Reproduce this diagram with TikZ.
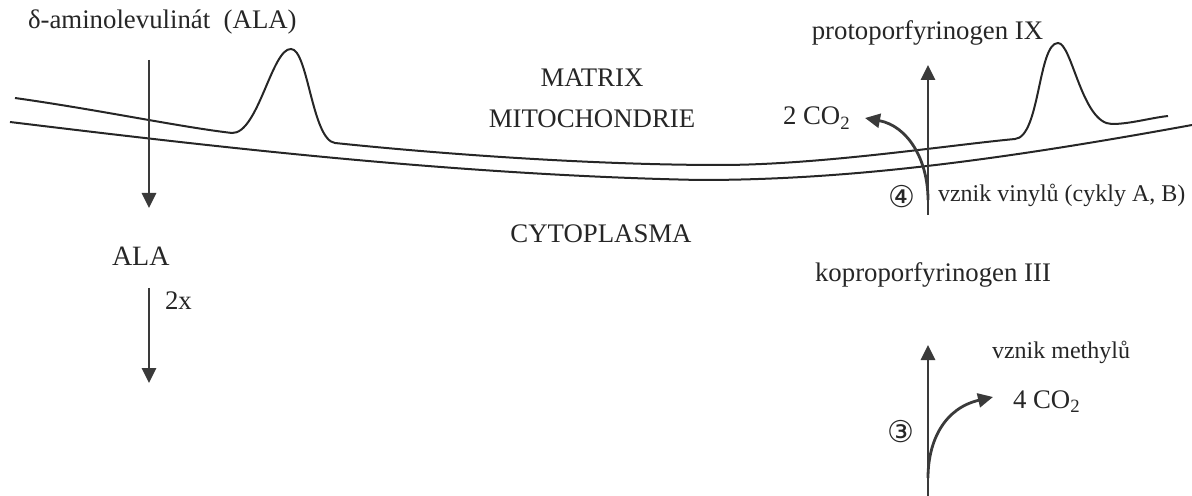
\documentclass[tikz,border=0pt]{standalone}
\usepackage{fontspec}
\setmainfont{Liberation Serif}
\newfontfamily\circfont{DejaVu Sans}
\usetikzlibrary{arrows.meta}
\definecolor{ink}{HTML}{262626}
\definecolor{arr}{HTML}{3A3A3A}
\begin{document}
\begin{tikzpicture}[x=0.5pt,y=-0.5pt,
  lbl/.style={inner sep=0pt,outer sep=0pt,text=ink,font=\fontsize{13.4}{15}\selectfont},
  small/.style={lbl,font=\fontsize{12}{14}\selectfont},
  big/.style={lbl,font=\fontsize{14}{16}\selectfont},
  circ/.style={inner sep=0pt,outer sep=0pt,text=ink,font=\circfont\fontsize{15}{17}\selectfont},
  memb/.style={draw=ink,line width=1pt},
  flow/.style={draw=arr,line width=1.4pt,-{Triangle[width=7pt,length=7.5pt]}},
]
\useasboundingbox (0,0) rectangle (1192,496);

% membranes
\path[memb] (15,98) .. controls (100,110) and (180,127) .. (232,133)
  .. controls (258,134) and (272,48) .. (291,49)
  .. controls (308,49) and (312,140) .. (335,143)
  .. controls (450,155) and (600,165) .. (720,165)
  .. controls (820,165) and (950,145) .. (1015,139)
  .. controls (1040,137) and (1038,43) .. (1058,43)
  .. controls (1072,43) and (1082,124) .. (1112,124)
  .. controls (1130,124) and (1150,118) .. (1168,116);
\path[memb] (10,122) .. controls (200,145) and (450,175) .. (700,180)
  .. controls (850,180) and (1000,160) .. (1192,125);

% labels
\node[lbl,anchor=base west] (ala0) at (28,29) {δ-aminolevulinát~ (ALA)};
\node[lbl,anchor=base] (matrix) at (592,87) {MATRIX};
\node[lbl,anchor=base] (mito) at (592,128) {MITOCHONDRIE};
\node[lbl,anchor=base] (cyto) at (601,243) {CYTOPLASMA};
\node[big,anchor=base west] (ala1) at (112,266) {ALA};
\node[lbl,anchor=base west] (twox) at (165,310) {2x};
\node[lbl,anchor=base] (proto) at (927.5,40) {protoporfyrinogen IX};
\node[lbl,anchor=base west] (co2a) at (783,125) {2 CO\textsubscript{2}};
\node[small,anchor=base west] (vinyl) at (938,202) {vznik vinylů (cykly A, B)};
\node[lbl,anchor=base] (kopro) at (933,282) {koproporfyrinogen III};
\node[small,anchor=base west] (methyl) at (992,358) {vznik methylů};
\node[lbl,anchor=base west] (co2b) at (1013,408) {4 CO\textsubscript{2}};
\node[circ] (c4) at (902,197) {④};
\node[circ] (c3) at (901,432) {③};

% arrow end points
\coordinate (a1s) at (149,60);
\coordinate (a1e) at (149,208);
\coordinate (a2s) at (149,288);
\coordinate (a2e) at (149,383);
\coordinate (p4s) at (928,215);
\coordinate (p4e) at (928,65);
\coordinate (c4s) at (928,200);
\coordinate (c4e) at (865,118);
\coordinate (p3s) at (928,496);
\coordinate (p3e) at (928,345);
\coordinate (c3s) at (928,478);
\coordinate (c3e) at (993,397);

% arrows
\draw[flow] (a1s) -- (a1e);
\draw[flow] (a2s) -- (a2e);
\draw[flow] (p4s) -- (p4e);
\draw[flow] (c4s) .. controls (928,160) and (908,126) .. (c4e);
\draw[flow] (p3s) -- (p3e);
\draw[flow] (c3s) .. controls (928,440) and (945,408) .. (c3e);
\end{tikzpicture}
\end{document}
